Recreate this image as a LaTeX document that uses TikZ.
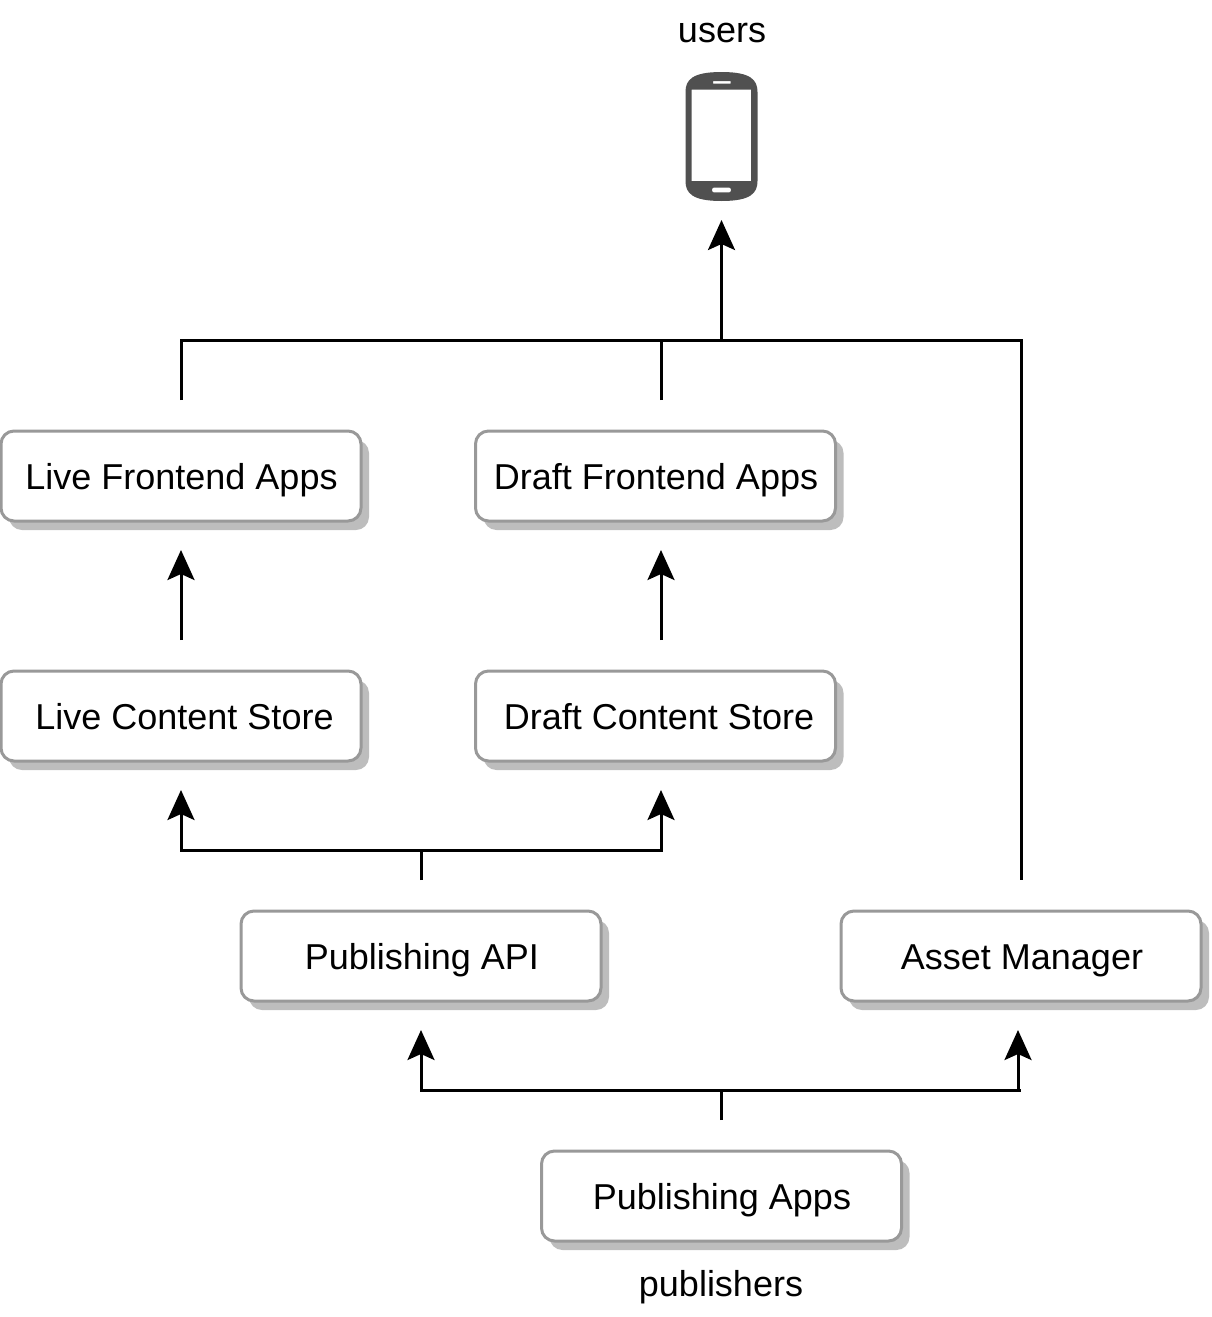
\documentclass[tikz,border=0pt]{standalone}
\usepackage{fontspec}
\setmainfont{Liberation Sans}
\usetikzlibrary{arrows.meta,shadows}
\definecolor{boxline}{HTML}{999999}
\definecolor{boxshadow}{HTML}{BDBDBD}
\definecolor{phonegrey}{HTML}{505050}
\tikzset{
  boxnode/.style={draw=boxline,line width=3pt,fill=white,rounded corners=13pt,minimum width=360pt,minimum height=90pt,inner sep=0pt,text height=26pt,text depth=0pt,font=\fontsize{36}{40}\selectfont,
    general shadow={shadow xshift=8pt,shadow yshift=-9pt,fill=boxshadow,draw=none}},
  caption/.style={inner sep=0pt,anchor=base,font=\fontsize{36}{40}\selectfont},
  wire/.style={line width=3pt,black},
  arrow/.style={wire,-{Stealth[length=30pt,width=27pt,inset=6pt]}},
}
\begin{document}
\begin{tikzpicture}[x=1pt,y=-1pt]
\useasboundingbox (0,0) rectangle (1212,1317);
% boxes
\node[boxnode] (lfa) at (181,476) {\hspace*{1pt}Live Frontend Apps};
\node[boxnode] (dfa) at (655.5,476) {\hspace*{1pt}Draft Frontend Apps};
\node[boxnode] (lcs) at (181,716) {\hspace*{7pt}Live Content Store};
\node[boxnode] (dcs) at (655.5,716) {\hspace*{7pt}Draft Content Store};
\node[boxnode] (api) at (421,956) {\hspace*{2pt}Publishing API};
\node[boxnode] (am) at (1021,956) {\hspace*{2pt}Asset Manager};
\node[boxnode] (pa) at (721.5,1196) {\hspace*{1pt}Publishing Apps};
\node[caption] (users) at (722,42) {users};
\node[caption] (publishers) at (721,1296) {publishers};
% phone
\node[inner sep=0pt,minimum width=72pt,minimum height=129pt] (phone) at (721.5,136.5) {};
\fill[phonegrey,even odd rule]
  (685.5,92) .. controls (685.5,80) and (692,72) .. (721.5,72)
  .. controls (751,72) and (757.5,80) .. (757.5,92)
  -- (757.5,181) .. controls (757.5,193) and (751,201) .. (721.5,201)
  .. controls (692,201) and (685.5,193) .. (685.5,181) -- cycle
  (691.7,89.5) rectangle (751,181)
  (713,81) rectangle (730.5,83.5)
  (713.5,187.7) -- (729.5,187.7) .. controls (731.5,187.7) and (731.5,192.3) .. (729.5,192.3) -- (713.5,192.3) .. controls (711.5,192.3) and (711.5,187.7) .. (713.5,187.7) -- cycle;
% coordinates
\coordinate (jl) at (181,340);
\coordinate (jd) at (661,340);
\coordinate (ju) at (721.5,340);
\coordinate (jr) at (1021,340);
\coordinate (lfaT) at (181,400);
\coordinate (dfaT) at (661,400);
\coordinate (amT) at (1021,880);
\coordinate (usersTip) at (721.5,220);
\coordinate (lcsT) at (181,640);
\coordinate (dcsT) at (661,640);
\coordinate (lfaB) at (181,550);
\coordinate (dfaB) at (661,550);
\coordinate (apiT) at (421,880);
\coordinate (apiJ) at (421,850);
\coordinate (apiL) at (181,850);
\coordinate (apiR) at (661,850);
\coordinate (lcsB) at (181,790);
\coordinate (dcsB) at (661,790);
\coordinate (paT) at (721,1120);
\coordinate (paJ) at (721,1090);
\coordinate (paL) at (421,1090);
\coordinate (paR) at (1021,1090);
\coordinate (paR2) at (1018,1090);
\coordinate (apiB) at (421,1030);
\coordinate (amB) at (1018,1030);
% connectors
\draw[wire,line join=miter] (lfaT) -- (jl) -- (jr) -- (amT);
\draw[wire] (dfaT) -- (jd);
\draw[arrow] (ju) -- (usersTip);
\draw[arrow] (lcsT) -- (lfaB);
\draw[arrow] (dcsT) -- (dfaB);
\draw[wire] (apiT) -- (apiJ);
\draw[arrow] (apiJ) -- (apiL) -- (lcsB);
\draw[arrow] (apiJ) -- (apiR) -- (dcsB);
\draw[wire] (paT) -- (paJ);
\draw[arrow] (paJ) -- (paL) -- (apiB);
\draw[wire] (paJ) -- (paR);
\draw[arrow] (paR2) -- (amB);
\end{tikzpicture}
\end{document}
